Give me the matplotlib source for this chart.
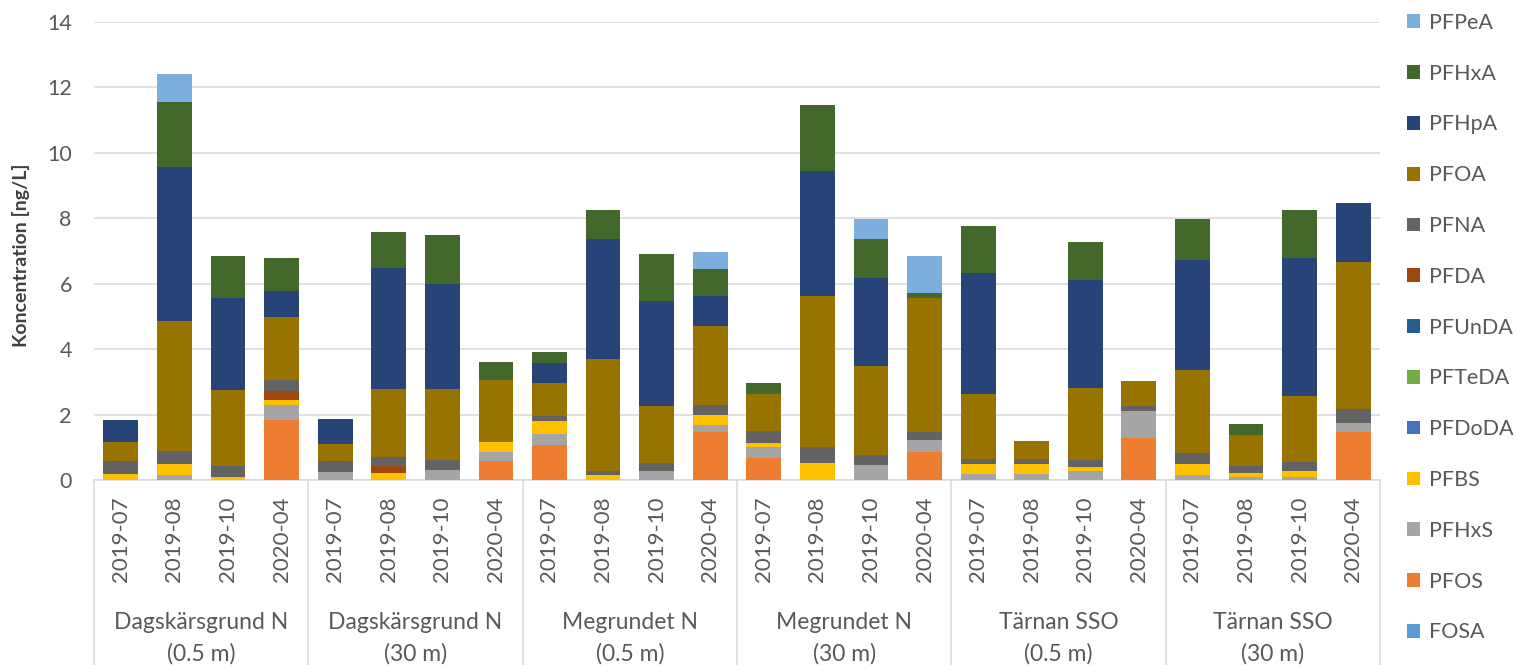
import matplotlib
matplotlib.use("Agg")
import matplotlib.pyplot as plt
from matplotlib.patches import Patch
from matplotlib.transforms import blended_transform_factory
import numpy as np

plt.rcParams["font.family"] = ["Lato", "DejaVu Sans"]

# --- data -------------------------------------------------------------
sites = ["Dagskärsgrund N\n(0.5 m)", "Dagskärsgrund N\n(30 m)", "Megrundet N\n(0.5 m)",
         "Megrundet N\n(30 m)", "Tärnan SSO\n(0.5 m)", "Tärnan SSO\n(30 m)"]
dates = ["2019-07", "2019-08", "2019-10", "2020-04"]

# stacked bottom -> top
FOSA   = [0] * 24
PFOS   = [0, 0, 0, 1.84,  0, 0, 0, 0.58,  1.07, 0, 0, 1.47,
          0.67, 0, 0, 0.85,  0, 0, 0, 1.28,  0, 0, 0, 1.46]
PFHxS  = [0, 0.15, 0, 0.46,  0.25, 0, 0.31, 0.28,  0.33, 0, 0.29, 0.21,
          0.34, 0, 0.46, 0.39,  0.20, 0.20, 0.27, 0.84,  0.16, 0.10, 0.10, 0.29]
PFBS   = [0.20, 0.34, 0.10, 0.16,  0, 0.23, 0, 0.29,  0.40, 0.16, 0, 0.30,
          0.12, 0.51, 0, 0,  0.29, 0.29, 0.12, 0,  0.34, 0.12, 0.18, 0]
PFDoDA = [0] * 24
PFTeDA = [0] * 24
PFUnDA = [0] * 24
PFDA   = [0, 0, 0, 0.27,  0, 0.19, 0, 0,  0, 0, 0, 0,
          0, 0, 0, 0,  0, 0, 0, 0,  0, 0, 0, 0]
PFNA   = [0.39, 0.40, 0.34, 0.34,  0.33, 0.28, 0.29, 0,  0.15, 0.12, 0.22, 0.33,
          0.38, 0.50, 0.32, 0.22,  0.16, 0.16, 0.21, 0.16,  0.33, 0.22, 0.28, 0.43]
PFOA   = [0.58, 3.98, 2.30, 1.92,  0.51, 2.07, 2.18, 1.90,  1.02, 3.42, 1.74, 2.41,
          1.12, 4.61, 2.71, 4.10,  1.98, 0.56, 2.20, 0.74,  2.53, 0.95, 2.02, 4.50]
PFHpA  = [0.67, 4.71, 2.82, 0.79,  0.79, 3.71, 3.21, 0,  0.61, 3.66, 3.21, 0.90,
          0, 3.82, 2.70, 0,  3.71, 0, 3.31, 0,  3.38, 0, 4.21, 1.79]
PFHxA  = [0, 1.97, 1.28, 1.01,  0, 1.11, 1.51, 0.56,  0.35, 0.89, 1.45, 0.84,
          0.35, 2.01, 1.18, 0.17,  1.41, 0, 1.17, 0,  1.23, 0.34, 1.45, 0]
PFPeA  = [0, 0.85, 0, 0,  0, 0, 0, 0,  0, 0, 0, 0.51,
          0, 0, 0.61, 1.12,  0, 0, 0, 0,  0, 0, 0, 0]

series = [
    ("FOSA", FOSA, "#5B9BD5"),
    ("PFOS", PFOS, "#ED7D31"),
    ("PFHxS", PFHxS, "#A5A5A5"),
    ("PFBS", PFBS, "#FFC000"),
    ("PFDoDA", PFDoDA, "#4472C4"),
    ("PFTeDA", PFTeDA, "#70AD47"),
    ("PFUnDA", PFUnDA, "#255E91"),
    ("PFDA", PFDA, "#9E480E"),
    ("PFNA", PFNA, "#636363"),
    ("PFOA", PFOA, "#997300"),
    ("PFHpA", PFHpA, "#264478"),
    ("PFHxA", PFHxA, "#43682B"),
    ("PFPeA", PFPeA, "#7CAFDD"),
]

TXT = "#595959"
GRID = "#D9D9D9"

fig = plt.figure(figsize=(15.17, 6.65), dpi=100)
ax = fig.add_axes([0.062, 0.278, 0.8477, 0.689])

x = np.arange(len(sites) * len(dates))
bottom = np.zeros(len(x))
for name, vals, col in series:
    v = np.array(vals, dtype=float)
    ax.bar(x, v, bottom=bottom, width=0.65, color=col, zorder=3)
    bottom += v

ax.set_xlim(-0.5, len(x) - 0.5)
ax.set_ylim(0, 14)
ax.set_yticks(range(0, 15, 2))
ax.grid(axis="y", color=GRID, linewidth=1.1, zorder=0)
for s in ("top", "right", "left"):
    ax.spines[s].set_visible(False)
ax.spines["bottom"].set_color(GRID)
ax.spines["bottom"].set_linewidth(1.1)
ax.tick_params(axis="y", length=0, pad=16, labelsize=15.5, labelcolor=TXT)
ax.set_xticks(x)
ax.set_xticklabels(dates * len(sites), rotation=90)
ax.tick_params(axis="x", length=0, pad=12, labelsize=16, labelcolor=TXT)

ax.set_ylabel("Koncentration [ng/L]", fontsize=14, fontweight="bold", color="#404040")
ax.yaxis.set_label_coords(-0.05, 0.49)

# hierarchical category axis
tr = blended_transform_factory(ax.transData, ax.transAxes)
for g in range(len(sites) + 1):
    xs = g * 4 - 0.5
    ax.plot([xs, xs], [0, -0.45], transform=tr, color=GRID, lw=1.1, clip_on=False)
for g, site in enumerate(sites):
    l1, l2 = site.split("\n")
    ax.text(g * 4 + 1.5, -0.310, l1, transform=tr, ha="center", va="center",
            fontsize=16.5, color=TXT)
    ax.text(g * 4 + 1.5, -0.380, l2, transform=tr, ha="center", va="center",
            fontsize=16.5, color=TXT)

handles = [Patch(facecolor=c, label=n) for n, _, c in reversed(series)]
fig.legend(handles=handles, loc="upper left", bbox_to_anchor=(0.919, 1.0),
           frameon=False, fontsize=15.5, labelcolor=TXT,
           handlelength=0.6, handleheight=0.6, handletextpad=0.4,
           labelspacing=1.43, borderaxespad=0.2)

fig.savefig("out.png", dpi=100)
